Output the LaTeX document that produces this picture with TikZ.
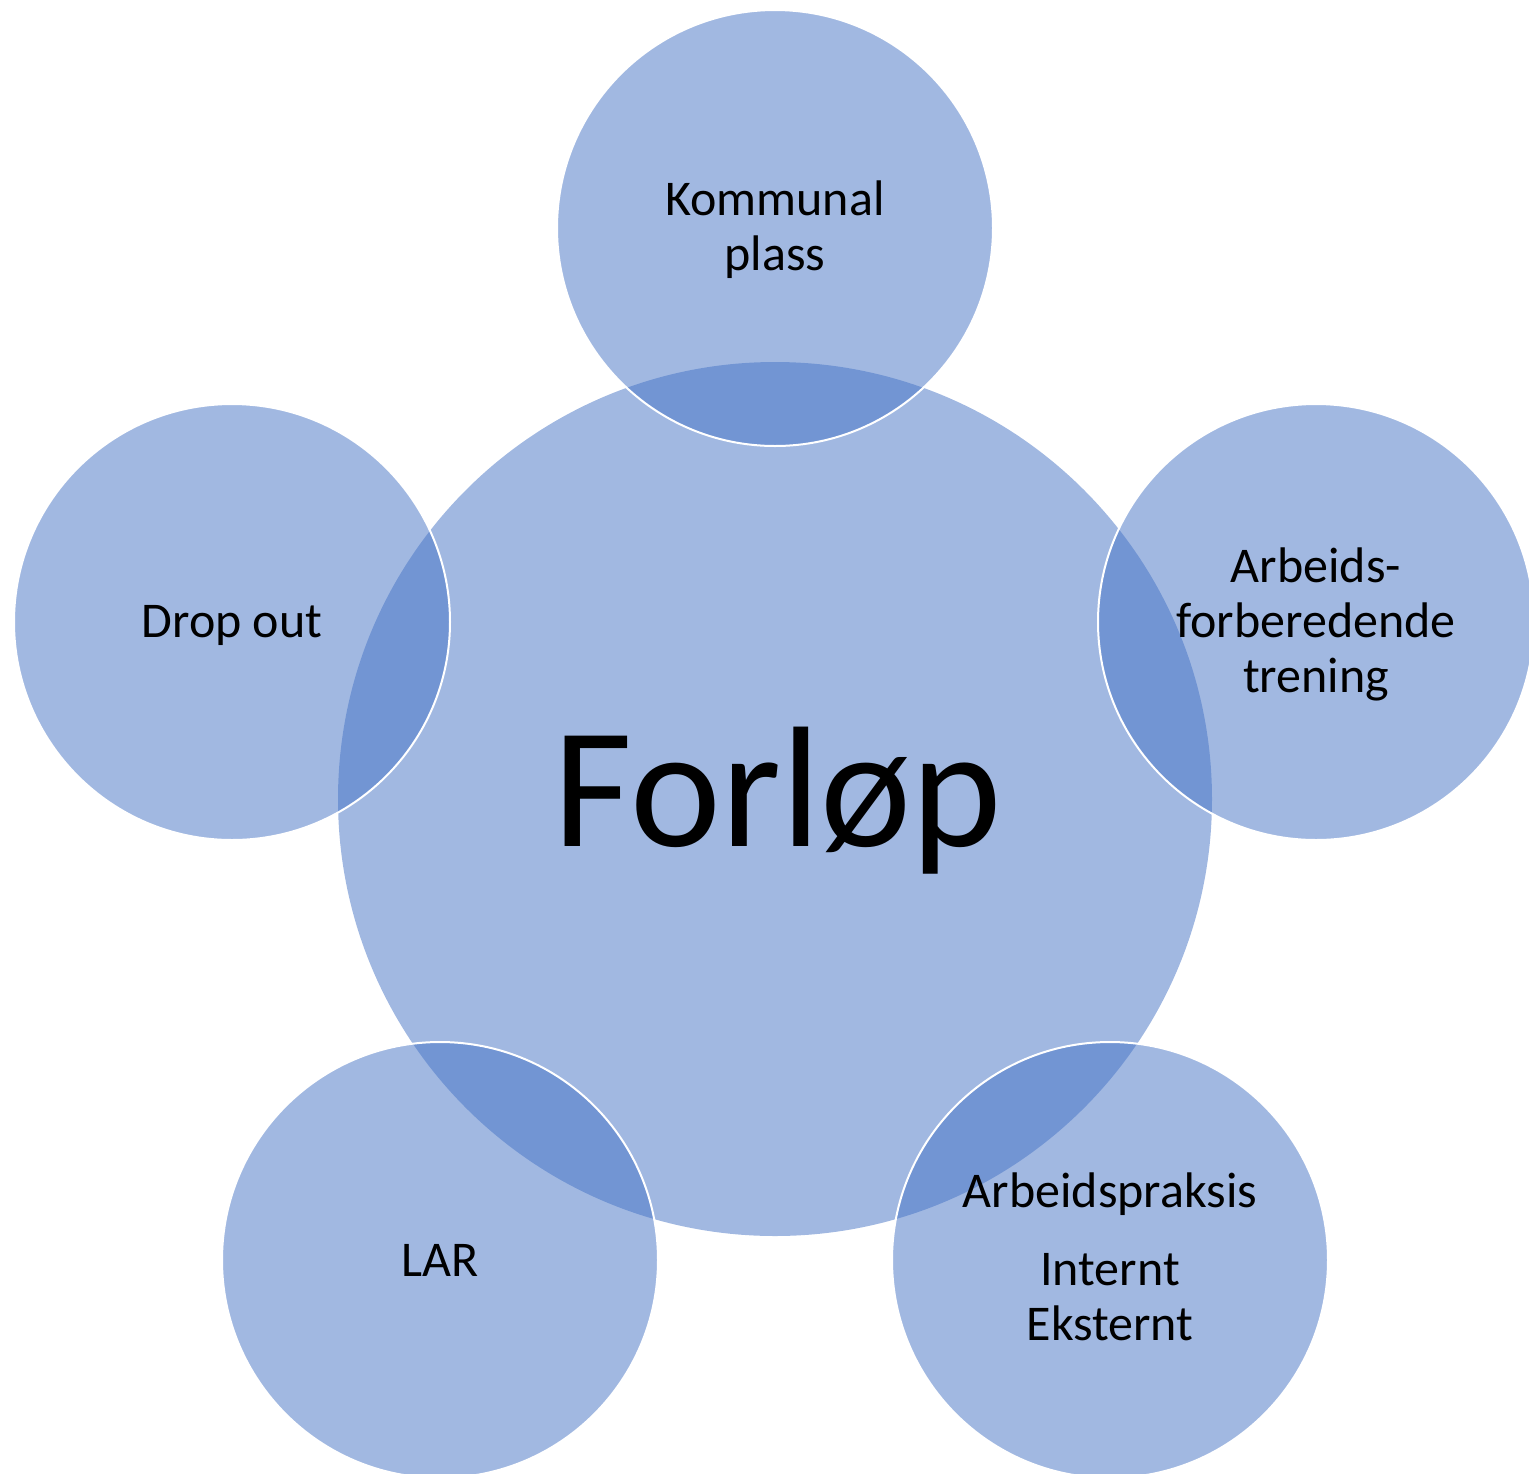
\documentclass[tikz,border=0pt]{standalone}
\usepackage{fontspec}
\setmainfont{Carlito}
\definecolor{accent}{HTML}{4472C4}
\begin{document}
\begin{tikzpicture}[x=1pt,y=-1pt,
  bigc/.style={circle,fill=accent,fill opacity=0.5,draw=none,inner sep=0pt,minimum size=874pt},
  satc/.style={circle,fill=accent,fill opacity=0.5,draw=white,draw opacity=1,line width=2pt,inner sep=0pt,minimum size=436pt},
  lbl/.style={font=\fontsize{50}{55}\selectfont,align=center,inner sep=0pt,text=black},
  biglbl/.style={font=\fontsize{172}{200}\selectfont,inner sep=0pt,text=black}]
\useasboundingbox (0,0) rectangle (1529,1473);
\node[bigc] (center) at (775,799) {};
\node[satc] (top) at (775,228) {};
\node[satc] (right) at (1316,622) {};
\node[satc] (bright) at (1110,1260) {};
\node[satc] (bleft) at (440,1260) {};
\node[satc] (left) at (232,622) {};
\node[biglbl,anchor=base] (tc) at (778,846) {Forløp};
\node[lbl,anchor=base] (tt) at (775,270) {Kommunal\\plass};
\node[lbl,anchor=base] (tr) at (1316,692) {Arbeids-\\forberedende\\trening};
\node[lbl,anchor=base] (tbr) at (1110,1340) {Arbeidspraksis\\[23pt]Internt\\Eksternt};
\node[lbl,anchor=base] (tbl) at (440,1276) {LAR};
\node[lbl,anchor=base] (tl) at (232,637) {Drop out};
\end{tikzpicture}
\end{document}
